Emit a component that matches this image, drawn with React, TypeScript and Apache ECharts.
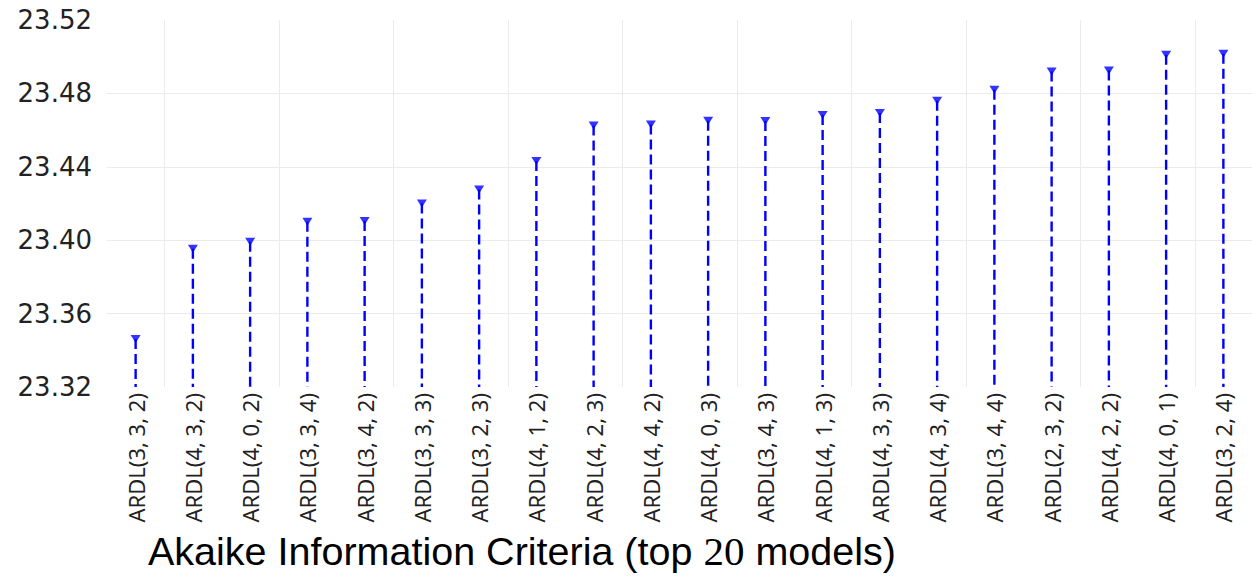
import React, { useEffect, useRef } from "react";
import * as echarts from "echarts";

const categories = [
  "ARDL(3, 3, 2)", "ARDL(4, 3, 2)", "ARDL(4, 0, 2)", "ARDL(3, 3, 4)", "ARDL(3, 4, 2)",
  "ARDL(3, 3, 3)", "ARDL(3, 2, 3)", "ARDL(4, 1, 2)", "ARDL(4, 2, 3)", "ARDL(4, 4, 2)",
  "ARDL(4, 0, 3)", "ARDL(3, 4, 3)", "ARDL(4, 1, 3)", "ARDL(4, 3, 3)", "ARDL(4, 3, 4)",
  "ARDL(3, 4, 4)", "ARDL(2, 3, 2)", "ARDL(4, 2, 2)", "ARDL(4, 0, 1)", "ARDL(3, 2, 4)",
];

const aicValues = [
  23.3462, 23.3953, 23.3991, 23.4100, 23.4105,
  23.4200, 23.4276, 23.4431, 23.4625, 23.4630,
  23.4651, 23.4649, 23.4682, 23.4693, 23.4760,
  23.4820, 23.4919, 23.4925, 23.5011, 23.5016,
];

const yMin = 23.32;
const yMax = 23.52;
const yStep = 0.04;

export default function App() {
  const ref = useRef<HTMLDivElement>(null);

  useEffect(() => {
    if (!ref.current) return;
    const chart = echarts.init(ref.current, undefined, { renderer: "svg" });
    const blue = "#0000ff";
    chart.setOption({
      animation: false,
      backgroundColor: "#ffffff",
      title: {
        left: 143,
        top: 525,
        text: "{a|Akaike Information Criteria (top }{b|20}{a| models)}",
        textStyle: {
          fontWeight: "normal",
          rich: {
            a: { fontFamily: "Liberation Sans", fontSize: 39.5, fontWeight: "normal", color: "#000000" },
            b: { fontFamily: "Liberation Serif", fontSize: 41, fontWeight: "normal", color: "#000000" },
          },
        },
      },
      grid: { left: 107, top: 20, width: 1149, height: 367 },
      xAxis: {
        type: "category",
        data: categories,
        boundaryGap: true,
        axisLine: { show: false },
        axisTick: { show: false },
        axisLabel: {
          rotate: 90,
          interval: 0,
          margin: 6,
          fontSize: 22,
          fontFamily: "Noto Sans",
          color: "#222222",
        },
        splitLine: {
          show: true,
          interval: (i: number) => i % 2 === 1,
          lineStyle: { color: "#ebebeb", width: 1 },
        },
      },
      yAxis: {
        type: "value",
        min: yMin,
        max: yMax,
        interval: yStep,
        axisLine: { show: false },
        axisTick: { show: false },
        axisLabel: {
          margin: 15,
          fontSize: 26,
          fontFamily: "DejaVu Sans",
          color: "#222222",
          formatter: (v: number) => v.toFixed(2),
        },
        splitLine: {
          show: true,
          showMinLine: false,
          showMaxLine: false,
          lineStyle: { color: "#ebebeb", width: 1 },
        },
      },
      series: [
        {
          type: "custom",
          data: aicValues.map((v, i) => [i, v]),
          renderItem: (params: any, api: any) => {
            const i = api.value(0);
            const v = api.value(1);
            const top = api.coord([i, v]);
            const bottom = api.coord([i, yMin]);
            return {
              type: "line",
              shape: { x1: top[0], y1: top[1], x2: bottom[0], y2: bottom[1] },
              style: { stroke: blue, lineWidth: 2.4, lineDash: [10, 5] },
            };
          },
          z: 2,
        },
        {
          type: "scatter",
          data: aicValues.map((v, i) => [i, v]),
          symbol: "triangle",
          symbolRotate: 180,
          symbolSize: [10, 8],
          itemStyle: { color: blue },
          z: 3,
        },
      ],
    });
    return () => chart.dispose();
  }, []);

  return (
    <div
      ref={ref}
      style={{ position: "fixed", left: 0, top: 0, width: 1252, height: 579 }}
    />
  );
}
